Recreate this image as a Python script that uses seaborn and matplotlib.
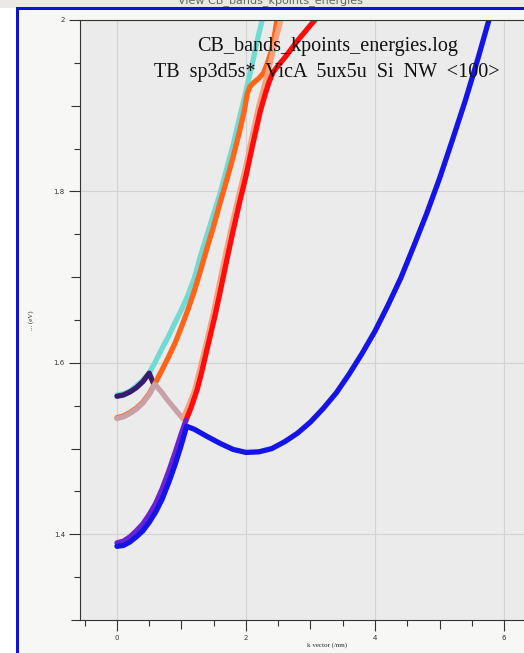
import matplotlib
matplotlib.use("Agg")
import matplotlib.pyplot as plt
import numpy as np
import pandas as pd
import seaborn as sns
from matplotlib.ticker import MultipleLocator, FuncFormatter
from matplotlib.patches import Rectangle

# Conduction-band energies (eV) versus k (1/nm), one array pair per band segment
k_turq = [0.00, 0.10, 0.20, 0.30, 0.40, 0.50, 0.60, 0.70, 0.80, 0.90, 1.00, 1.10, 1.20,
          1.30, 1.40, 1.50, 1.60, 1.70, 1.80, 1.90, 2.00, 2.10, 2.20, 2.25]
E_turq = [1.5625, 1.564, 1.567, 1.573, 1.580, 1.588, 1.602, 1.617, 1.631, 1.647, 1.662, 1.679, 1.699,
          1.726, 1.750, 1.774, 1.798, 1.826, 1.854, 1.886, 1.917, 1.950, 1.984, 2.000]

k_dpurple = [0.00, 0.10, 0.20, 0.30, 0.40, 0.50, 0.56]
E_dpurple = [1.561, 1.5625, 1.566, 1.571, 1.578, 1.588, 1.577]

k_orange = [0.00, 0.10, 0.20, 0.30, 0.40, 0.50, 0.59, 0.70, 0.80, 0.90, 1.00, 1.10, 1.20,
            1.30, 1.40, 1.50, 1.60, 1.70, 1.80, 1.90, 1.97, 2.02, 2.06, 2.12, 2.20,
            2.27, 2.33, 2.39, 2.44, 2.48]
E_orange = [1.536, 1.538, 1.542, 1.547, 1.554, 1.564, 1.576, 1.592, 1.607, 1.623, 1.642, 1.662, 1.684,
            1.709, 1.735, 1.760, 1.787, 1.813, 1.840, 1.870, 1.893, 1.914, 1.922, 1.927, 1.932,
            1.938, 1.949, 1.963, 1.981, 2.000]

k_pink = [0.00, 0.10, 0.20, 0.30, 0.40, 0.50, 0.59, 0.70, 0.80, 0.90, 1.02]
E_pink = [1.535, 1.537, 1.541, 1.546, 1.553, 1.563, 1.575, 1.565, 1.555, 1.546, 1.535]

k_salmon = [1.02, 1.10, 1.20, 1.30, 1.40, 1.50, 1.60, 1.70, 1.80, 1.90, 2.00, 2.10, 2.20,
            2.30, 2.40, 2.47, 2.54]
E_salmon = [1.535, 1.548, 1.567, 1.597, 1.628, 1.660, 1.697, 1.733, 1.767, 1.799, 1.830, 1.866, 1.900,
            1.928, 1.957, 1.980, 2.000]

k_red = [1.07, 1.15, 1.24, 1.30, 1.40, 1.52, 1.60, 1.70, 1.80, 1.90, 2.00, 2.10, 2.22,
         2.30, 2.36, 2.42, 2.50, 2.60, 2.70, 2.80, 2.90, 3.00, 3.07]
E_red = [1.533, 1.548, 1.568, 1.585, 1.617, 1.655, 1.683, 1.719, 1.754, 1.787, 1.818, 1.853, 1.893,
         1.914, 1.928, 1.939, 1.947, 1.956, 1.966, 1.976, 1.985, 1.994, 2.000]

k_violet = [0.00, 0.10, 0.20, 0.30, 0.40, 0.50, 0.60, 0.70, 0.80, 0.90, 1.00, 1.07]
E_violet = [1.390, 1.392, 1.397, 1.404, 1.412, 1.423, 1.436, 1.453, 1.473, 1.495, 1.518, 1.533]

k_blue = [0.00, 0.10, 0.20, 0.30, 0.40, 0.50, 0.60, 0.70, 0.80, 0.90, 1.00, 1.08, 1.20,
          1.40, 1.60, 1.80, 2.00, 2.20, 2.40, 2.60, 2.80, 3.00, 3.20, 3.40, 3.60, 3.80,
          4.00, 4.20, 4.40, 4.60, 4.80, 5.00, 5.20, 5.40, 5.60, 5.80, 6.00]
E_blue = [1.386, 1.387, 1.391, 1.397, 1.404, 1.414, 1.426, 1.441, 1.460, 1.481, 1.505, 1.526, 1.5225,
          1.514, 1.506, 1.499, 1.4955, 1.4962, 1.500, 1.508, 1.518, 1.531, 1.547, 1.565, 1.587, 1.611,
          1.637, 1.667, 1.699, 1.736, 1.774, 1.815, 1.860, 1.906, 1.956, 2.009, 2.065]

bands = [
    ("turquoise", k_turq, E_turq, "#70dad3"),
    ("dark purple", k_dpurple, E_dpurple, "#361b6e"),
    ("orange", k_orange, E_orange, "#ff6418"),
    ("pink", k_pink, E_pink, "#c9a0a8"),
    ("salmon", k_salmon, E_salmon, "#ffa07c"),
    ("red", k_red, E_red, "#fd0c0c"),
    ("violet", k_violet, E_violet, "#6a22d4"),
    ("blue", k_blue, E_blue, "#1414e8"),
]

df = pd.concat(
    [pd.DataFrame({"band": name, "k": k, "E": E}) for name, k, E, _ in bands],
    ignore_index=True,
)
palette = {name: c for name, _, _, c in bands}
order = [name for name, _, _, _ in bands]

sns.set_theme(style="ticks")
plt.rcParams["font.family"] = ["DejaVu Sans"]

W, H = 524, 653
fig = plt.figure(figsize=(W / 100, H / 100), dpi=100)
fig.patch.set_facecolor("white")

# window frame: title bar, client area and blue border
fig.add_artist(Rectangle((0, 1 - 8 / H), 1, 8 / H, transform=fig.transFigure,
                         facecolor="#ebe9e5", edgecolor="none", zorder=0))
fig.add_artist(Rectangle((16 / W, 0), 1, 1 - 8 / H, transform=fig.transFigure,
                         facecolor="#f7f7f5", edgecolor="none", zorder=0))
fig.add_artist(Rectangle((16 / W, 0), 3 / W, 1 - 7 / H, transform=fig.transFigure,
                         facecolor="#1010dc", edgecolor="none", zorder=1))
fig.add_artist(Rectangle((16 / W, 1 - 10 / H), 1, 3 / H, transform=fig.transFigure,
                         facecolor="#1010dc", edgecolor="none", zorder=1))
fig.text(270 / W, 1 - 1 / H, "View CB_bands_kpoints_energies", ha="center", va="center",
         fontsize=8, color="#666666")

# plot area
x0, x1 = -0.57, 7.085
ax_left, ax_right = 80.2, 574.0
ax = fig.add_axes([ax_left / W, 33 / H, (ax_right - ax_left) / W, 600 / H])
ax.set_facecolor("#ebebeb")

sns.lineplot(data=df, x="k", y="E", hue="band", hue_order=order, palette=palette,
             sort=False, estimator=None, linewidth=3.8, legend=False, ax=ax)
for line in ax.get_lines():
    line.set_solid_joinstyle("round")

ax.set_xlim(x0, x1)
ax.set_ylim(1.3, 2.0)

ax.xaxis.set_major_locator(MultipleLocator(2))
ax.xaxis.set_minor_locator(MultipleLocator(0.5))
ax.yaxis.set_major_locator(MultipleLocator(0.2))
ax.yaxis.set_minor_locator(MultipleLocator(0.05))
ax.xaxis.set_major_formatter(FuncFormatter(lambda v, _: f"{v:g}"))
ax.yaxis.set_major_formatter(FuncFormatter(lambda v, _: f"{v:g}"))

ax.tick_params(which="major", direction="out", length=8, width=0.8, color="#333333",
               labelsize=5, labelcolor="#333333", pad=3)
ax.tick_params(which="minor", direction="out", length=4, width=0.8, color="#333333")

# intermediate ticks (odd x, odd tenths in y) drawn a bit longer
for axis, step in ((ax.xaxis, 1.0), (ax.yaxis, 0.1)):
    locs = axis.get_minorticklocs()
    for loc, tick in zip(locs, axis.get_minor_ticks(len(locs))):
        if abs(loc / step - round(loc / step)) < 1e-6:
            tick.tick1line.set_markersize(6.5)

ax.grid(True, which="major", color="#d2d2d2", linewidth=0.8)
ax.set_axisbelow(True)
for s in ax.spines.values():
    s.set_color("#333333")
    s.set_linewidth(0.8)

ax.set_xlabel("k vector (/nm)", fontsize=5, family="Liberation Serif", labelpad=1)
ax.set_ylabel("... (eV)", fontsize=5, family="Liberation Serif", labelpad=14)

ax.text(0.5, 0.955, "CB_bands_kpoints_energies.log", transform=ax.transAxes,
        ha="center", va="center", fontsize=14.5, family="Liberation Serif", color="#111111")
ax.text(0.5, 0.912, "TB  sp3d5s*  VicA  5ux5u  Si  NW  <100>", transform=ax.transAxes,
        ha="center", va="center", fontsize=14.5, family="Liberation Serif", color="#111111")

fig.savefig("out.png", dpi=100)
